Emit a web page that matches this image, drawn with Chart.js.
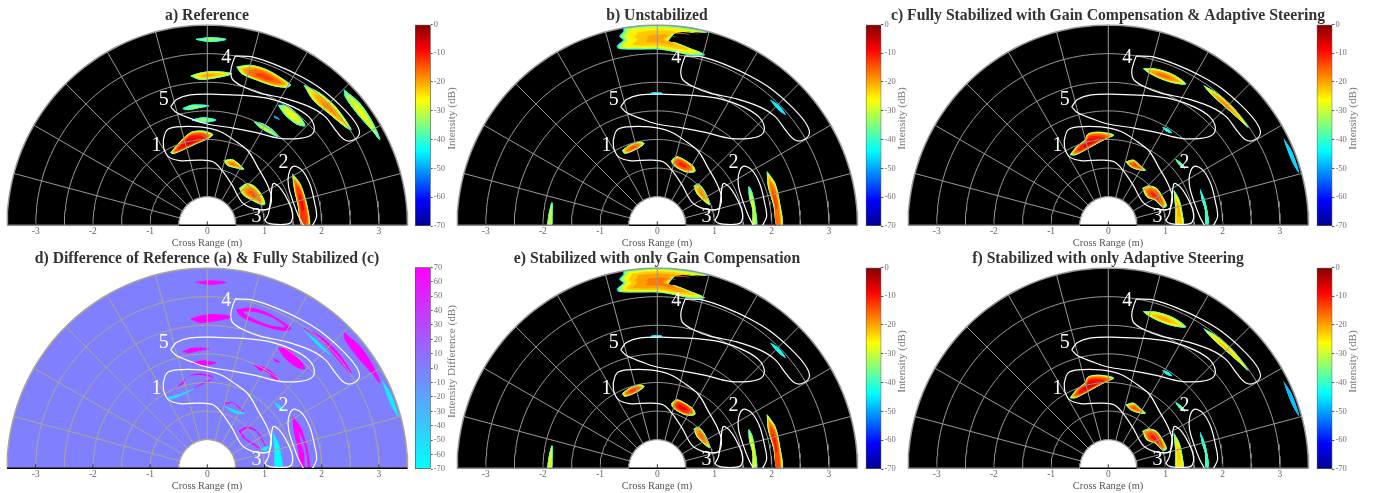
<!DOCTYPE html>
<html>
<head>
<meta charset="utf-8">
<title>Radar images</title>
<script src="https://cdn.jsdelivr.net/npm/chart.js@4"></script>
<style>
    html, body { margin: 0; padding: 0; background: #fff; overflow: hidden; width: 1378px; height: 493px; }
    canvas { position: absolute; }
</style>
</head>
<body>
<script>
// Axis values
const crossRangeTicks = [-3, -2, -1, 0, 1, 2, 3];
const intensityTicks = [0, -10, -20, -30, -40, -50, -60, -70];
const differenceTicks = [70, 60, 50, 40, 30, 20, 10, 0, -10, -20, -30, -40, -50, -60, -70];
const gridRadii = [1, 1.5, 2, 2.5, 3];
const gridAngles = [-75, -60, -45, -30, -15, 0, 15, 30, 45, 60, 75];
const innerRadius = 0.5;
const outerRadius = 3.5;

// Colormap stops: [dB fraction, r, g, b]
const jetStops = [[0, 0, 0, 143], [0.125, 0, 0, 255], [0.375, 0, 255, 255], [0.625, 255, 255, 0], [0.875, 255, 0, 0], [1, 128, 0, 0]];
const coolStops = [[0, 0, 255, 255], [1, 255, 0, 255]];

// Outlines of the regions of interest, in metres (x cross range, y down range)
const region4 = [[.49,2.96],[.80,2.94],[1.21,2.80],[1.62,2.61],[1.97,2.40],[2.32,2.10],[2.58,1.81],[2.66,1.61],[2.55,1.49],[2.41,1.49],[2.26,1.64],[2.06,1.90],[1.79,2.07],[1.39,2.21],[.92,2.31],[.66,2.41],[.45,2.54],[.41,2.69],[.45,2.86],[.49,2.96]];
const region5 = [[-.64,2.07],[-.54,2.20],[-.30,2.28],[.16,2.29],[.63,2.27],[1.10,2.21],[1.50,2.07],[1.77,1.90],[1.87,1.72],[1.82,1.58],[1.62,1.52],[1.27,1.52],[.86,1.62],[.45,1.70],[-.01,1.77],[-.30,1.87],[-.54,1.97],[-.64,2.07]];
const region1 = [[-.77,1.49],[-.71,1.66],[-.54,1.72],[-.13,1.72],[.22,1.64],[.51,1.46],[.72,1.29],[.89,1.00],[1.04,.73],[1.12,.50],[1.08,.30],[.98,.27],[.78,.30],[.60,.41],[.43,.71],[.25,.97],[.10,1.11],[-.13,1.14],[-.48,1.13],[-.68,1.20],[-.76,1.35],[-.77,1.49]];
const region2 = [[1.68,0],[1.60,.15],[1.50,.41],[1.42,.68],[1.42,.88],[1.50,1.03],[1.65,.97],[1.79,.73],[1.88,.38],[1.91,.15],[1.84,0]];
const region3 = [[1.01,.09],[1.07,.21],[1.11,.47],[1.14,.71],[1.18,.73],[1.30,.62],[1.42,.41],[1.49,.21],[1.47,.06],[1.39,.02],[1.15,.02],[1.04,.05],[1.01,.09]];
const regionOutlines = [region4, region5, region1, region2, region3];
const regionNames = ['4', '5', '1', '2', '3'];
const regionNameX = [.33, -.76, -.89, 1.33, .86];
const regionNameY = [2.92, 2.19, 1.39, 1.10, .15];

// Targets seen in the reference image
const refTargets = [
    [[-.20,3.25],[.05,3.28],[.33,3.25],[.05,3.21]],
    [[-.29,2.61],[-.13,2.66],[.10,2.69],[.43,2.65],[.16,2.58],[-.13,2.55]],
    [[.51,2.77],[.75,2.80],[1.04,2.72],[1.33,2.55],[1.46,2.45],[1.39,2.41],[1.15,2.44],[.86,2.54],[.60,2.65]],
    [[1.69,2.45],[1.97,2.31],[2.26,2.05],[2.52,1.67],[2.44,1.70],[2.12,1.96],[1.85,2.19]],
    [[2.39,2.37],[2.67,2.13],[2.90,1.78],[3.02,1.49],[2.90,1.64],[2.64,1.93],[2.41,2.25]],
    [[1.24,2.10],[1.39,2.09],[1.59,1.93],[1.71,1.74],[1.56,1.77],[1.36,1.93]],
    [[1.17,1.92],[1.27,1.85],[1.18,1.88]],
    [[.82,1.81],[.98,1.77],[1.15,1.66],[1.24,1.55],[1.10,1.61],[.92,1.71]],
    [[-.43,2.04],[-.27,2.10],[.03,2.09],[-.13,2.06],[-.33,2.02]],
    [[-.27,1.84],[-.07,1.88],[.15,1.84],[-.07,1.80]],
    [[-.64,1.27],[-.54,1.39],[-.42,1.52],[-.27,1.63],[-.07,1.65],[.10,1.59],[.02,1.52],[-.19,1.43],[-.36,1.35],[-.54,1.27],[-.62,1.25]],
    [[.29,1.13],[.43,1.15],[.54,1.08],[.64,.98],[.48,1.01],[.35,1.05]],
    [[.56,.65],[.69,.73],[.83,.68],[.95,.53],[1.01,.37],[.95,.36],[.78,.44],[.63,.53]],
    [[1.49,.90],[1.62,.73],[1.72,.44],[1.79,.09],[1.78,0],[1.65,0],[1.59,.33],[1.52,.65]]
];
const refPeaks = [-33, -20, -13, -18, -27, -27, -50, -30, -33, -33, -6, -17, -15, -9];

// Targets when no steering is applied (panels b and e)
const unsteeredTargets = [
    [[-.59,3.44],[-.36,3.47],[0,3.49],[.34,3.47],[.69,3.42],[.89,3.38],[.51,3.41],[.34,3.39],[.25,3.30],[.19,3.21],[.34,3.18],[.57,3.09],[.83,2.98],[.57,2.98],[.28,3.04],[0,3.08],[-.30,3.08],[-.68,3.09],[-.70,3.14],[-.59,3.24],[-.66,3.30],[-.59,3.39]],
    [[-.13,2.31],[-.01,2.33],[.09,2.31],[-.01,2.29]],
    [[-.61,1.31],[-.48,1.40],[-.30,1.46],[-.23,1.43],[-.33,1.35],[-.48,1.28],[-.58,1.26]],
    [[.25,1.14],[.34,1.20],[.48,1.14],[.63,1.03],[.66,.94],[.51,.93],[.34,1.01],[.26,1.08]],
    [[.64,.69],[.72,.72],[.83,.59],[.92,.36],[.80,.44],[.69,.56]],
    [[1.60,.68],[1.65,.59],[1.71,.30],[1.74,0],[1.68,0],[1.67,.27],[1.61,.50]],
    [[1.92,.94],[2.06,.73],[2.14,.38],[2.19,0],[2.09,0],[2.04,.33],[1.94,.68]],
    [[-1.92,0],[-1.89,.21],[-1.84,.40],[-1.84,.15],[-1.85,0]],
    [[1.97,2.20],[2.12,2.10],[2.25,1.93],[2.14,2.00],[2.02,2.13]]
];
const unstabilizedPeaks = [-20, -46, -14, -11, -18, -28, -13, -28, -44];
const gainOnlyPeaks = [-17, -44, -12, -8, -15, -26, -10, -26, -42];

// Targets after steering (panels c and f)
const steeredTargets = [
    [[.61,2.74],[.84,2.73],[1.14,2.63],[1.36,2.47],[1.14,2.49],[.90,2.57],[.70,2.67]],
    [[1.67,2.44],[1.89,2.31],[2.19,2.05],[2.45,1.71],[2.27,1.87],[2.01,2.10],[1.78,2.31]],
    [[.94,1.72],[1.05,1.68],[1.12,1.61],[1.02,1.64]],
    [[3.06,1.53],[3.21,1.29],[3.34,.91],[3.23,1.08],[3.12,1.35]],
    [[-.67,1.23],[-.55,1.38],[-.41,1.49],[-.35,1.60],[-.15,1.63],[.10,1.58],[-.03,1.52],[-.20,1.43],[-.38,1.33],[-.58,1.23]],
    [[.31,1.11],[.44,1.14],[.55,1.05],[.65,.96],[.50,.98],[.38,1.03]],
    [[1.18,1.15],[1.28,1.08],[1.34,1.00],[1.25,1.05]],
    [[.60,.65],[.70,.69],[.84,.65],[.93,.53],[1.02,.34],[.96,.31],[.82,.44],[.67,.50]],
    [[1.15,.61],[1.24,.44],[1.30,.15],[1.31,0],[1.19,0],[1.18,.27]],
    [[1.60,.65],[1.69,.44],[1.75,.15],[1.75,0],[1.71,0],[1.69,.27],[1.63,.47]]
];
const fullyStabilizedPeaks = [-16, -18, -40, -46, -7, -13, -34, -11, -20, -38];
const steeringOnlyPeaks = [-20, -22, -42, -48, -6, -14, -34, -10, -22, -38];

// Thin residues of panel d and the level of each one
const residueOutlines = [
    [[1.68,2.45],[1.97,2.26],[2.23,1.96],[2.47,1.67],[2.26,1.81],[1.97,2.04],[1.74,2.30]],
    [[1.71,2.39],[1.95,2.19],[2.15,1.98],[1.93,2.16]],
    [[-.68,1.24],[-.48,1.29],[-.24,1.39],[-.45,1.28],[-.65,1.21]],
    [[.31,1.08],[.45,1.02],[.66,.96],[.48,.97]],
    [[.56,.67],[.63,.55],[.92,.35],[.72,.47]],
    [[.95,.35],[1.07,.38],[1.01,.30]]
];
const residueLevels = [0, -62, -60, -60, 65, -65];
// Level of each steered target once it is subtracted from the reference
const steeredDifference = [0, null, 0, -60, 0, 0, -65, 0, -68, 0];

const panelTitles = [
    'a) Reference',
    'b) Unstabilized',
    'c) Fully Stabilized with Gain Compensation & Adaptive Steering',
    'd) Difference of Reference (a) & Fully Stabilized (c)',
    'e) Stabilized with only Gain Compensation',
    'f) Stabilized with only Adaptive Steering'
];
const titleSize = 15.7;

const serif = '"Liberation Serif", "Times New Roman", serif';

// Read a colormap at a fraction between 0 and 1
const colormapAt = (stops, t) => {
    let i = 0;
    while (i < stops.length - 2 && t > stops[i + 1][0]) i++;
    const a = stops[i], b = stops[i + 1];
    const k = Math.min(1, Math.max(0, (t - a[0]) / (b[0] - a[0])));
    const c = [1, 2, 3].map(j => Math.round(a[j] + (b[j] - a[j]) * k));
    return `rgb(${c[0]},${c[1]},${c[2]})`;
};
const jetColor = db => colormapAt(jetStops, (db + 70) / 70);
const coolColor = db => colormapAt(coolStops, (db + 70) / 140);

const toPoints = list => list.map(p => ({ x: p[0], y: p[1] }));

// Polar angle measured from the vertical, as on the radar sector
const arcPoints = (r, from, to) => {
    const pts = [];
    const step = from < to ? 2 : -2;
    for (let a = from; step > 0 ? a <= to : a >= to; a += step) {
        const rad = a * Math.PI / 180;
        pts.push({ x: r * Math.sin(rad), y: r * Math.cos(rad) });
    }
    return pts;
};

const shapeDataset = (points, color, tension, edge) => ({
    data: points,
    showLine: true,
    fill: 'shape',
    backgroundColor: color,
    borderWidth: edge || 0,
    borderColor: edge ? color : 'transparent',
    pointRadius: 0,
    tension: tension
});

const lineDataset = (points, color, width, tension, clip) => ({
    data: points,
    showLine: true,
    fill: false,
    borderColor: color,
    borderWidth: width,
    pointRadius: 0,
    tension: tension,
    ...(clip ? { clip: clip } : {})
});

// A target is painted as nested outlines rising from the noise floor to its peak
const layerCount = 8;
const floorDb = -48;
const targetLayers = (outline, peak) => {
    const cx = outline.reduce((s, p) => s + p[0], 0) / outline.length;
    const cy = outline.reduce((s, p) => s + p[1], 0) / outline.length;
    const layers = [];
    for (let i = 0; i < layerCount; i++) {
        const t = i / (layerCount - 1);
        const k = 1 - 0.16 * t - 0.5 * Math.pow(t, 5);
        const pts = outline.map(p => ({ x: cx + (p[0] - cx) * k, y: p[1] === 0 && k > 0.6 ? 0 : cy + (p[1] - cy) * k }));
        pts.push(pts[0]);
        const db = floorDb + (peak - floorDb) * Math.pow(t, 0.6);
        layers.push(shapeDataset(pts, jetColor(db), 0.3, i < 3 && peak > -36 ? 1 : 0));
    }
    return layers;
};

const flatShape = (outline, db) => {
    const pts = toPoints(outline);
    pts.push(pts[0]);
    return shapeDataset(pts, coolColor(db), 0.3, db === 0 ? 0 : 0.8);
};

const buildDatasets = (marks, style) => {
    const back = [];
    // sector background
    const sector = arcPoints(outerRadius, -90, 90).concat(arcPoints(innerRadius, 90, -90));
    back.push(shapeDataset(sector, style.background, 0));
    back.push(...marks);
    // grid
    gridRadii.forEach(r => back.push(lineDataset(arcPoints(r, -90, 90), style.grid, 1, 0)));
    gridAngles.forEach(a => back.push(lineDataset(arcPoints(innerRadius, a, a).concat(arcPoints(outerRadius, a, a)), style.grid, 1, 0)));
    // hole and outer rim
    back.push(shapeDataset(arcPoints(innerRadius, -90, 90), '#ffffff', 0));
    back.push(lineDataset(arcPoints(innerRadius, -90, 90), style.rim, 1.2, 0));
    back.push(lineDataset(arcPoints(outerRadius, -90, 90), style.rim, 1.5, 0));
    back.push(lineDataset(toPoints([[-innerRadius, 0], [innerRadius, 0]]), '#000000', 1.5, 0, 3));
    back.push(lineDataset(toPoints([[-outerRadius, 0], [-innerRadius, 0]]), style.baseline, 1.5, 0, 3));
    back.push(lineDataset(toPoints([[innerRadius, 0], [outerRadius, 0]]), style.baseline, 1.5, 0, 3));
    // regions of interest
    regionOutlines.forEach(o => back.push(lineDataset(toPoints(o), '#ffffff', 1.2, 0.35)));
    // x axis tick marks
    crossRangeTicks.forEach(v => back.push(lineDataset(toPoints([[v, 0], [v, 0.07]]), '#333333', 1, 0)));
    return back.reverse();
};

// Region numbers, placed through the scales
const regionNamesPlugin = {
    id: 'regionNames',
    afterDatasetsDraw(chart) {
        const { ctx, scales } = chart;
        ctx.save();
        ctx.fillStyle = '#ffffff';
        ctx.font = `20px ${serif}`;
        ctx.textAlign = 'center';
        ctx.textBaseline = 'middle';
        regionNames.forEach((name, i) => {
            ctx.fillText(name, scales.x.getPixelForValue(regionNameX[i]), scales.y.getPixelForValue(regionNameY[i]));
        });
        ctx.restore();
    }
};

// Fonction pour créer un panneau radar
const createPanel = (title, marks, style, centerX, top) => {
    const canvasWidth = 450;
    const canvasHeight = 250;
    const pixelsPerMetre = 57.2;
    const left = Math.round(centerX - canvasWidth / 2);
    const canvas = document.createElement('canvas');
    canvas.width = canvasWidth;
    canvas.height = canvasHeight;
    canvas.style.left = left + 'px';
    canvas.style.top = top + 'px';
    document.body.appendChild(canvas);
    const titleLine = titleSize * 1.2;
    const xMin = (left - centerX) / pixelsPerMetre;

    new Chart(canvas.getContext('2d'), {
        type: 'scatter',
        data: { datasets: buildDatasets(marks, style) },
        plugins: [regionNamesPlugin],
        options: {
            responsive: false,
            animation: false,
            events: [],
            layout: { autoPadding: false, padding: 0 },
            scales: {
                x: {
                    type: 'linear',
                    min: xMin,
                    max: xMin + canvasWidth / pixelsPerMetre,
                    afterBuildTicks: axis => { axis.ticks = crossRangeTicks.map(v => ({ value: v })); },
                    afterFit: axis => { axis.height = canvasHeight - 225.3; },
                    grid: { display: false, drawTicks: false },
                    border: { display: false },
                    ticks: { color: '#666666', font: { family: serif, size: 9.5 }, padding: 0, maxRotation: 0, autoSkip: false, callback: v => String(v) },
                    title: { display: true, text: 'Cross Range (m)', color: '#555555', font: { family: serif, size: 10.4 }, padding: { top: 1, bottom: 0.5 } }
                },
                y: { type: 'linear', display: false, min: 0, max: 3.515 }
            },
            plugins: {
                legend: { display: false },
                tooltip: { enabled: false },
                title: { display: true, text: title, color: '#333333', font: { family: serif, size: titleSize, weight: 'bold' }, padding: { top: 16 - titleLine / 2, bottom: 24.2 - 16 - titleLine / 2 } }
            }
        }
    });
};

// Fonction pour créer une barre de couleur
const createColorbar = (stops, range, ticks, axisTitle, barLeft, top) => {
    const canvas = document.createElement('canvas');
    canvas.width = 62;
    canvas.height = 225;
    canvas.style.left = Math.round(barLeft - 3) + 'px';
    canvas.style.top = top + 'px';
    document.body.appendChild(canvas);
    const barWidth = 15.7;
    const padLeft = barLeft - Math.round(barLeft - 3);

    const axisTitlePlugin = {
        id: 'axisTitle',
        afterDraw(chart) {
            const { ctx, chartArea } = chart;
            ctx.save();
            ctx.translate(chartArea.right + 21, 104.5);
            ctx.rotate(-Math.PI / 2);
            ctx.fillStyle = '#777777';
            ctx.font = `11.2px ${serif}`;
            ctx.textAlign = 'center';
            ctx.textBaseline = 'middle';
            ctx.fillText(axisTitle, 0, 0);
            ctx.restore();
        }
    };

    new Chart(canvas.getContext('2d'), {
        type: 'bar',
        data: {
            labels: [''],
            datasets: [{
                data: [range],
                barPercentage: 1,
                categoryPercentage: 1,
                borderWidth: 1,
                borderColor: '#555555',
                borderSkipped: false,
                backgroundColor: (context) => {
                    const area = context.chart.chartArea;
                    if (!area) return '#000000';
                    const gradient = context.chart.ctx.createLinearGradient(0, area.bottom, 0, area.top);
                    stops.forEach(s => gradient.addColorStop(s[0], `rgb(${s[1]},${s[2]},${s[3]})`));
                    return gradient;
                }
            }]
        },
        plugins: [axisTitlePlugin],
        options: {
            responsive: false,
            animation: false,
            events: [],
            layout: { autoPadding: false, padding: { left: padLeft, right: 0, top: 10.3, bottom: 13 } },
            scales: {
                x: { display: false },
                y: {
                    position: 'right',
                    min: range[0],
                    max: range[1],
                    afterBuildTicks: axis => { axis.ticks = ticks.map(v => ({ value: v })); },
                    afterFit: axis => { axis.width = 62 - padLeft - barWidth; },
                    grid: { drawOnChartArea: false, tickLength: 2, color: '#555555' },
                    border: { display: false },
                    ticks: { color: '#707070', font: { family: serif, size: 8.5 }, padding: 1, autoSkip: false, callback: v => String(v) }
                }
            },
            plugins: { legend: { display: false }, tooltip: { enabled: false } }
        }
    });
};

const darkStyle = { background: '#000000', grid: '#999999', rim: '#999999', baseline: '#8a8a8a' };
const differenceStyle = { background: coolColor(0), grid: '#aaa78f', rim: '#aaa78f', baseline: '#000000' };

const jetMarks = (outlines, peaks) => outlines.flatMap((o, i) => targetLayers(o, peaks[i]));

// Panel d: the reference in full, then what the stabilized image takes away
const differenceMarks = [
    ...refTargets.map(o => flatShape(o, 70)),
    ...steeredTargets.filter((o, i) => steeredDifference[i] !== null).map(o => flatShape(o, steeredDifference[steeredTargets.indexOf(o)])),
    ...residueOutlines.map((o, i) => flatShape(o, residueLevels[i]))
];

const panelCenters = [207.3, 657.3, 1108.3];
const barLefts = [415, 865.7, 1316.7];
const rowTops = [0, 243];
const barTops = [14, 257];
const intensityRange = [-70, 0];
const differenceRange = [-70, 70];

createPanel(panelTitles[0], jetMarks(refTargets, refPeaks), darkStyle, panelCenters[0], rowTops[0]);
createPanel(panelTitles[1], jetMarks(unsteeredTargets, unstabilizedPeaks), darkStyle, panelCenters[1], rowTops[0]);
createPanel(panelTitles[2], jetMarks(steeredTargets, fullyStabilizedPeaks), darkStyle, panelCenters[2], rowTops[0]);
createPanel(panelTitles[3], differenceMarks, differenceStyle, panelCenters[0], rowTops[1]);
createPanel(panelTitles[4], jetMarks(unsteeredTargets, gainOnlyPeaks), darkStyle, panelCenters[1], rowTops[1]);
createPanel(panelTitles[5], jetMarks(steeredTargets, steeringOnlyPeaks), darkStyle, panelCenters[2], rowTops[1]);

createColorbar(jetStops, intensityRange, intensityTicks, 'Intensity (dB)', barLefts[0], barTops[0]);
createColorbar(jetStops, intensityRange, intensityTicks, 'Intensity (dB)', barLefts[1], barTops[0]);
createColorbar(jetStops, intensityRange, intensityTicks, 'Intensity (dB)', barLefts[2], barTops[0]);
createColorbar(coolStops, differenceRange, differenceTicks, 'Intensity Difference (dB)', barLefts[0], barTops[1]);
createColorbar(jetStops, intensityRange, intensityTicks, 'Intensity (dB)', barLefts[1], barTops[1]);
createColorbar(jetStops, intensityRange, intensityTicks, 'Intensity (dB)', barLefts[2], barTops[1]);
</script>
</body>
</html>
